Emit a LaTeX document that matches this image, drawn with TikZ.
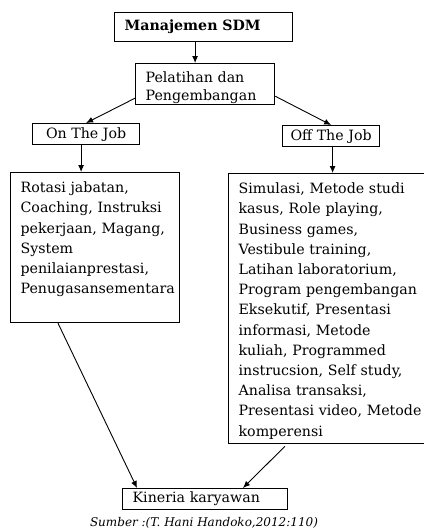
\documentclass[tikz,border=0pt]{standalone}
\usepackage{fontspec}
\setmainfont{DejaVu Serif}
\usetikzlibrary{arrows.meta}
\begin{document}
\begin{tikzpicture}[x=1pt,y=-1pt,
    box/.style={draw,line width=1.2pt,align=left,inner ysep=0pt,font=\fontsize{14.2}{20.2}\selectfont},
    arr/.style={-{Latex[length=7pt,width=6pt]},line width=0.9pt}]
    \useasboundingbox (0,0) rectangle (423,530);
    \node[box,anchor=north west,inner xsep=10pt,text width=158pt,minimum height=29pt] (msdm) at (114,12){\bfseries Manajemen SDM};
    \node[box,anchor=north west,inner xsep=10pt,text width=119pt,text height=19pt,text depth=22pt,font=\fontsize{14.2}{18}\selectfont] (pelat) at (135,63){Pelatihan dan\\Pengembangan};
    \node[box,anchor=north west,align=center,minimum width=107pt,minimum height=21pt] (onjob) at (32,123){On The Job};
    \node[box,anchor=north west,align=center,minimum width=97pt,minimum height=21pt] (offjob) at (282,125){Off The Job};
    \node[box,anchor=north west,inner xsep=10pt,inner ysep=4pt,text width=149pt,text height=16pt,text depth=126pt] (onlist) at (10,172){Rotasi jabatan,\\Coaching, Instruksi\\pekerjaan, Magang,\\System\\penilaianprestasi,\\Penugasansementara};
    \node[box,anchor=north west,inner xsep=10pt,inner ysep=4pt,text width=240pt,text height=16pt,text depth=246pt] (offlist) at (228,173){Simulasi, Metode studi\\kasus, Role playing,\\Business games,\\Vestibule training,\\Latihan laboratorium,\\Program pengembangan\\Eksekutif, Presentasi\\informasi, Metode\\kuliah, Programmed\\instrucsion, Self study,\\Analisa transaksi,\\Presentasi video, Metode\\komperensi};
    \node[box,anchor=north west,inner xsep=10pt,text width=145pt,minimum height=21pt] (kinerja) at (122,488){Kineria karyawan};
    \node[font=\fontsize{12}{14}\selectfont\itshape,anchor=base] (sumber) at (204,526){Sumber :(T. Hani Handoko,2012:110)};
    \draw[arr] ([xshift=-8.5pt]msdm.south) -- ([xshift=-8.5pt]msdm.south |- pelat.north);
    \draw[arr] ([yshift=7pt]pelat.south west) -- (onjob.north);
    \draw[arr] ([yshift=9pt]pelat.south east) -- (offjob.north);
    \draw[arr] ([xshift=-5pt]onjob.south) -- ([xshift=-5pt]onjob.south |- onlist.north);
    \draw[arr] ([xshift=1.5pt]offjob.south) -- ([xshift=1.5pt]offjob.south |- offlist.north);
    \draw[arr] ([xshift=48pt]onlist.south west) -- ([xshift=15pt]kinerja.north west);
    \draw[arr,shorten <=3pt] ([xshift=59pt]offlist.south west) -- ([xshift=121pt]kinerja.north west);
\end{tikzpicture}
\end{document}
